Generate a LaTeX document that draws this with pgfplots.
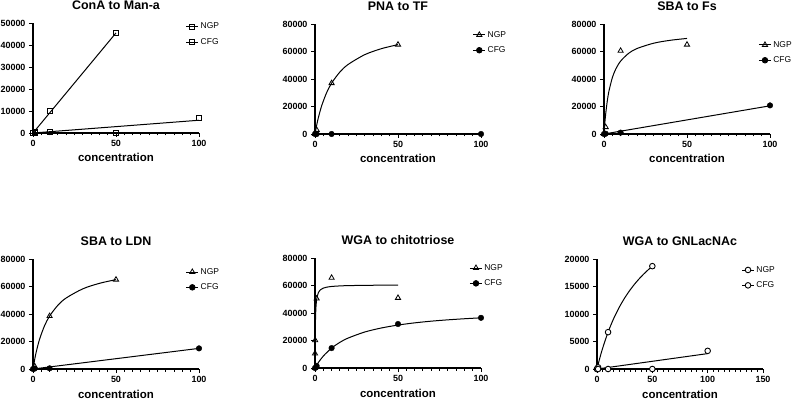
\documentclass[border=0pt]{standalone}
\usepackage{fontspec}
\setmainfont{Liberation Sans}
\usepackage{pgfplots}
\pgfplotsset{compat=1.18}
\usetikzlibrary{plotmarks}
\pgfplotsset{
  gp/.style={
    scale only axis, width=166bp, height=110bp,
    anchor=south west,
    axis lines=left,
    axis line style={-, line width=1.1bp},
    xmin=0, xmax=100, ymin=0,
    xtick={0,50,100},
    minor x tick num=9,
    tick align=outside,
    major tick length=4bp, minor tick length=2.5bp,
    tick style={black, line width=0.9bp},
    clip=false,
    scaled y ticks=false,
    /pgf/number format/assume math mode=true,
    yticklabel style={/pgf/number format/fixed, /pgf/number format/1000 sep={}},
    every tick label/.append style={font=\bfseries\fontsize{9}{10}\selectfont},
    xlabel={\bfseries\fontsize{11.5}{13}\selectfont concentration},
    every axis x label/.append style={at={(axis description cs:0.5,0)}, anchor=base, yshift=-29bp},
    every axis title/.append style={font=\bfseries\fontsize{12.5}{14}\selectfont, at={(axis description cs:0.5,1)}, anchor=base, yshift=7.5bp, inner sep=0pt},
    legend cell align=left,
    legend style={draw=none, fill=none, font=\fontsize{8.5}{10}\selectfont, anchor=north west, inner sep=0pt, row sep=4bp},
    legend image code/.code={\draw[mark repeat=2,mark phase=2] plot coordinates {(0bp,0bp)(6bp,0bp)(12bp,0bp)};},
  },
  fitline/.style={black, line width=1bp, no marks, forget plot},
  pts/.style={black, only marks, forget plot, mark options={solid, line width=0.8bp}},
  tri/.style={mark=triangle, mark size=3bp, mark options={solid, fill=white, line width=0.8bp}},
  dot/.style={mark=*, mark size=2.8bp, mark options={solid, fill=black}},
  sq/.style={mark=square, mark size=2.5bp, mark options={solid, fill=white, line width=0.9bp}},
  hc/.style={mark=halfcircle*, mark size=2.8bp, mark options={solid, fill=white, line width=0.9bp, rotate=-45}},
}
\begin{document}
\begin{tikzpicture}
\path[use as bounding box] (0,0) rectangle (800bp,400bp);

% Panel 1
\begin{axis}[gp, at={(33bp,267bp)}, ymax=50000, ytick={0,10000,20000,30000,40000,50000},
  title={ConA to Man-a}, legend style={at={(0.92,1.02)}}]
\addplot[fitline] coordinates {(0,0) (50,45500)};
\addplot[fitline] coordinates {(0,0) (100,5800)};
\addplot[pts, sq] coordinates {(0,0) (1,400) (10,10000) (50,45500)};
\addplot[pts, sq] coordinates {(0,0) (1,0) (10,500) (50,100) (100,7000)};
\addlegendimage{black, line width=0.8bp, sq}
\addlegendentry{NGP}
\addlegendimage{black, line width=0.8bp, sq}
\addlegendentry{CFG}
\end{axis}

% Panel 2
\begin{axis}[gp, at={(315bp,266bp)}, ymax=80000, ytick={0,20000,40000,60000,80000},
  title={PNA to TF}, legend style={at={(0.95,0.955)}}]
\addplot[fitline, smooth] coordinates {(0,0) (1,6327) (2,11729) (4,20464) (7,30055) (10,36995) (15,45090) (20,50620) (30,57715) (40,62065) (50,64997)};
\addplot[fitline] coordinates {(0,0) (100,0)};
\addplot[pts, tri] coordinates {(0,0) (1,3000) (10,37000) (50,65000)};
\addplot[pts, dot] coordinates {(0,0) (1,0) (10,0) (100,0)};
\addlegendimage{black, line width=0.8bp, tri}
\addlegendentry{NGP}
\addlegendimage{black, line width=0.8bp, dot}
\addlegendentry{CFG}
\end{axis}

% Panel 3
\begin{axis}[gp, at={(604bp,266bp)}, ymax=80000, ytick={0,20000,40000,60000,80000},
  title={SBA to Fs}, legend style={at={(0.93,0.864)}}]
\addplot[fitline, smooth] coordinates {(0,0) (0.5,7982) (1,14437) (2,24232) (3,31315) (5,40871) (7,47022) (10,52998) (15,58820) (20,62236) (30,66068) (40,68172) (50,69499)};
\addplot[fitline] coordinates {(0,0) (100,20500)};
\addplot[pts, tri] coordinates {(0,0) (1,5000) (10,60500) (50,65000)};
\addplot[pts, dot] coordinates {(0,0) (1,200) (10,1000) (100,20800)};
\addlegendimage{black, line width=0.8bp, tri}
\addlegendentry{NGP}
\addlegendimage{black, line width=0.8bp, dot}
\addlegendentry{CFG}
\end{axis}

% Panel 4
\begin{axis}[gp, at={(33bp,31bp)}, ymax=80000, ytick={0,20000,40000,60000,80000},
  title={SBA to LDN}, legend style={at={(0.92,0.936)}}]
\addplot[fitline, smooth] coordinates {(0,0) (1,6892) (2,12672) (4,21823) (7,31600) (10,38500) (15,46380) (20,51666) (30,58308) (40,62307) (50,65000)};
\addplot[fitline] coordinates {(0,0) (100,15000)};
\addplot[pts, tri] coordinates {(0,0) (1,2000) (10,38500) (50,65000)};
\addplot[pts, dot] coordinates {(0,0) (1,300) (10,500) (100,15000)};
\addlegendimage{black, line width=0.8bp, tri}
\addlegendentry{NGP}
\addlegendimage{black, line width=0.8bp, dot}
\addlegendentry{CFG}
\end{axis}

% Panel 5
\begin{axis}[gp, at={(315bp,32bp)}, ymax=80000, ytick={0,20000,40000,60000,80000},
  title={WGA to chitotriose}, legend style={at={(0.93,0.963)}}]
\addplot[fitline, smooth] coordinates {(0,0) (0.05,11600) (0.1,19470) (0.2,29465) (0.4,39640) (0.7,46516) (1,50000) (2,54771) (3,56571) (5,58098) (7,58779) (10,59298) (15,59708) (20,59917) (30,60126) (40,60232) (50,60296)};
\addplot[fitline, smooth] coordinates {(0,0) (1,2063) (2,3940) (5,8683) (10,14498) (15,18666) (20,21794) (30,26189) (40,29113) (50,31232) (60,32826) (70,34063) (80,35026) (90,35821) (100,36498)};
\addplot[pts, tri] coordinates {(0,0) (0,10500) (0.1,20200) (1,50500) (10,65600) (50,51000)};
\addplot[pts, dot] coordinates {(0,0) (1,1500) (10,14500) (50,32000) (100,36500)};
\addlegendimage{black, line width=0.8bp, tri}
\addlegendentry{NGP}
\addlegendimage{black, line width=0.8bp, dot}
\addlegendentry{CFG}
\end{axis}

% Panel 6
\begin{axis}[gp, at={(597bp,31bp)}, xmax=150, xtick={0,50,100,150}, ymax=20000, ytick={0,5000,10000,15000,20000},
  title={WGA to GNLacNAc}, legend style={at={(0.87,0.954)}}]
\addplot[fitline, smooth] coordinates {(0,0) (2,1592) (5,3718) (10,6700) (15,9145) (20,11186) (25,12916) (30,14400) (35,15687) (40,16812) (45,17804) (50,18694)};
\addplot[fitline] coordinates {(0,0) (100,2800)};
\addplot[pts, hc] coordinates {(0,0) (1,300) (10,6700) (50,18700)};
\addplot[pts, hc] coordinates {(0,0) (1,0) (10,0) (50,0) (100,3300)};
\addlegendimage{black, line width=0.8bp, hc}
\addlegendentry{NGP}
\addlegendimage{black, line width=0.8bp, hc}
\addlegendentry{CFG}
\end{axis}
\end{tikzpicture}
\end{document}
